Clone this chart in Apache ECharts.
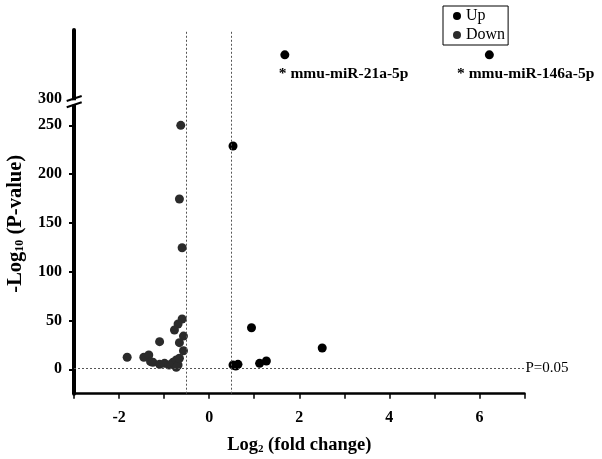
<!DOCTYPE html>
<html><head><meta charset="utf-8">
<script src="https://cdn.jsdelivr.net/npm/echarts@6/dist/echarts.min.js"></script>
<style>html,body{margin:0;padding:0;background:#fff}#c{width:602px;height:459px}</style>
</head><body><div id="c"></div>
<script>
// ---- data ----
const downX = [-0.63, -0.66, -0.60, -0.60, -0.69, -0.77, -0.57, -1.10, -0.66, -0.57, -1.82, -1.45, -1.34, -1.30, -1.25, -1.10, -0.99, -0.89, -0.84, -0.80, -0.73, -0.69, -0.73, -0.66];
const downY = [250, 174.5, 124.6, 51.5, 46.4, 40.3, 34, 28.3, 27.3, 19, 12.3, 12.3, 14.7, 7.8, 7.2, 5.1, 6.1, 4.4, 5.1, 7.2, 9.5, 4.4, 2.0, 11.3];
const upX = [0.53, 0.94, 2.51, 0.53, 0.59, 0.64, 1.12, 1.27];
const upY = [228.8, 42.6, 21.8, 4.4, 3.4, 5.1, 6.1, 8.5];
const topNames = ['* mmu-miR-21a-5p', '* mmu-miR-146a-5p'];
const topX = [1.68, 6.22];
const topY = [364, 364];
const xTickLabels = [-2, 0, 2, 4, 6];
const yTickValues = [0, 50, 100, 150, 200, 250];
const yBreakLabel = [300];
const fcThresholds = [-0.5, 0.5];
const pThreshold = 1.3;
const pLabel = 'P=0.05';

const SERIF = 'Liberation Serif, Times New Roman, serif';
const pairs = (xs, ys) => xs.map((x, i) => [x, ys[i]]);
const labelOffsets = [[-1.5, 23.5], [-27.8, 23.5]];

const dotted = { type: [2, 2], color: '#555', width: 1 };

const chart = echarts.init(document.getElementById('c'), null, { renderer: 'canvas' });
chart.setOption({
  animation: false,
  backgroundColor: '#fff',
  legend: {
    orient: 'vertical', left: 443, top: 6,
    data: ['Up', 'Down'],
    icon: 'circle', itemWidth: 8, itemHeight: 8, itemGap: 3,
    padding: [2, 3, 2, 10],
    borderColor: '#000', borderWidth: 1,
    textStyle: { fontFamily: SERIF, fontSize: 16, color: '#000', lineHeight: 15 }
  },
  grid: [
    { left: 74, right: 77.5, top: 30, height: 75.8, containLabel: false, outerBoundsMode: 'none' },
    { left: 74, right: 77.5, top: 105.8, height: 287.9, containLabel: false, outerBoundsMode: 'none' }
  ],
  xAxis: [
    { gridIndex: 0, type: 'value', min: -3, max: 7, interval: 1, show: false },
    {
      gridIndex: 1, type: 'value', min: -3, max: 7, interval: 1,
      axisLine: { show: true, onZero: false, lineStyle: { color: '#000', width: 2.5 } },
      axisTick: { show: true, length: 5, lineStyle: { color: '#000', width: 1.5 } },
      axisLabel: { customValues: xTickLabels, margin: 16, fontFamily: SERIF, fontSize: 16, fontWeight: 'bold', color: '#000' },
      splitLine: { show: false },
      name: '{a|Log}{s|2}{a| (fold change)}',
      nameLocation: 'middle', nameGap: 42,
      nameTextStyle: {
        rich: {
          a: { fontFamily: SERIF, fontSize: 18.5, fontWeight: 'bold', color: '#000' },
          s: { fontFamily: SERIF, fontSize: 11, fontWeight: 'bold', color: '#000', padding: [8, 0, 0, 0] }
        }
      }
    }
  ],
  yAxis: [
    {
      gridIndex: 0, type: 'value', min: 290, max: 400,
      axisLine: { show: true, onZero: false, lineStyle: { color: '#000', width: 4 } },
      axisTick: { show: false },
      axisLabel: { customValues: yBreakLabel, margin: 12, fontFamily: SERIF, fontSize: 16, fontWeight: 'bold', color: '#000' },
      splitLine: { show: false }
    },
    {
      gridIndex: 1, type: 'value', min: -25, max: 270,
      axisLine: { show: true, onZero: false, lineStyle: { color: '#000', width: 4 } },
      axisTick: { show: true, customValues: yTickValues, length: 5, lineStyle: { color: '#000', width: 2 } },
      axisLabel: { customValues: yTickValues, margin: 12, fontFamily: SERIF, fontSize: 16, fontWeight: 'bold', color: '#000' },
      splitLine: { show: false },
      name: '{a|-Log}{s|10}{a| (P-value)}',
      nameLocation: 'middle', nameGap: 48, nameRotate: 90,
      nameTextStyle: {
        padding: [0, 0, 0, 52],
        rich: {
          a: { fontFamily: SERIF, fontSize: 20.5, fontWeight: 'bold', color: '#000' },
          s: { fontFamily: SERIF, fontSize: 12, fontWeight: 'bold', color: '#000', padding: [9, 0, 0, 0] }
        }
      }
    }
  ],
  series: [
    {
      name: 'Down', type: 'scatter', xAxisIndex: 1, yAxisIndex: 1,
      symbolSize: 9, itemStyle: { color: '#2b2b2b', opacity: 1 },
      data: pairs(downX, downY),
      markLine: {
        silent: true, symbol: 'none', animation: false,
        lineStyle: dotted,
        label: { show: false },
        data: fcThresholds.map(v => ({ xAxis: v })).concat([{
          yAxis: pThreshold,
          label: { show: true, position: 'end', distance: 1, formatter: pLabel, fontFamily: SERIF, fontSize: 15, color: '#000' }
        }])
      }
    },
    {
      name: 'Up', type: 'scatter', xAxisIndex: 1, yAxisIndex: 1,
      symbolSize: 9, itemStyle: { color: '#000', opacity: 1 },
      data: pairs(upX, upY)
    },
    {
      name: 'Up', type: 'scatter', xAxisIndex: 0, yAxisIndex: 0,
      symbolSize: 9, itemStyle: { color: '#000', opacity: 1 },
      data: topX.map((x, i) => ({
        value: [x, topY[i]], name: topNames[i],
        label: {
          show: true, formatter: topNames[i], position: labelOffsets[i],
          align: 'left', verticalAlign: 'middle',
          fontFamily: SERIF, fontSize: 15.5, fontWeight: 'bold', color: '#000'
        }
      })),
      markLine: {
        silent: true, symbol: 'none', animation: false,
        lineStyle: dotted, label: { show: false },
        data: fcThresholds.map(v => ({ xAxis: v }))
      }
    }
  ],
  graphic: [
    { type: 'rect', shape: { x: 70, y: 100.3, width: 8, height: 4.4 }, style: { fill: '#fff' }, z: 100 },
    { type: 'line', shape: { x1: 66.7, y1: 101, x2: 81.7, y2: 96 }, style: { stroke: '#000', lineWidth: 2 }, z: 101 },
    { type: 'line', shape: { x1: 66.7, y1: 107.3, x2: 81.7, y2: 102.3 }, style: { stroke: '#000', lineWidth: 2 }, z: 101 }
  ]
});
</script>
</body></html>
